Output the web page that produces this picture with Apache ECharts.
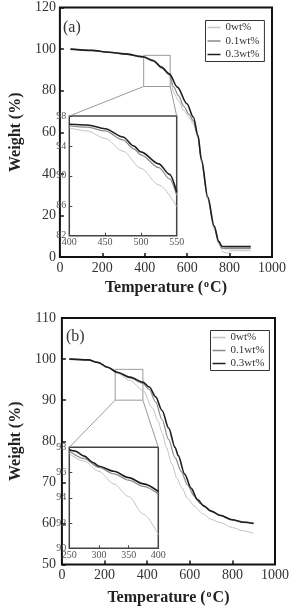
<!DOCTYPE html>
<html>
<head>
<meta charset="utf-8">
<script src="https://cdn.jsdelivr.net/npm/echarts@6/dist/echarts.min.js"></script>
<style>
html,body{margin:0;padding:0;background:#fff;}
#c{width:293px;height:607px;}
</style>
</head>
<body>
<div id="c"></div>
<script>
// ---------- data (temperature °C, weight %) ----------
const seriesNames = ['0wt%', '0.1wt%', '0.3wt%'];

// panel (a) main
const a_0wt  = [[50,100],[150,99.3],[230,98.4],[306,97.5],[393,96.0],[440,94.0],[479,90.7],[516,87.2],[539,78.5],[560,75],[584,70.5],[610,67],[629,64],[651,57],[667,45.5],[697,27.5],[727,13.5],[749,6],[770,2.5],[788,1.8],[805,3],[900,3]];
const a_01wt = [[50,100],[150,99.4],[230,98.5],[306,97.6],[393,96.1],[440,94.2],[479,91.0],[516,87.8],[535,82],[560,77.5],[584,72.5],[610,68.5],[629,65.5],[651,58],[667,46.5],[697,28.5],[727,14.5],[749,7],[764,4.3],[780,4.0],[900,4.0]];
const a_03wt = [[50,100],[150,99.4],[230,98.5],[306,97.7],[393,96.3],[440,94.5],[479,91.3],[516,88.1],[554,81.7],[599,73.7],[629,67.3],[651,58.5],[667,47],[697,29],[727,15],[749,7.5],[764,5.1],[780,5.0],[900,5.0]];
// panel (a) inset
const ia_0wt  = [[400,96.4],[425,96.0],[450,95.0],[475,93.3],[500,91.0],[525,88.8],[550,85.9]];
const ia_01wt = [[400,96.7],[425,96.5],[450,96.0],[475,94.8],[490,93.6],[500,92.8],[525,91.1],[540,89.6],[550,87.4]];
const ia_03wt = [[400,96.9],[425,96.8],[450,96.3],[475,95.2],[490,94.0],[500,93.2],[525,91.6],[540,90.2],[550,87.8]];

// panel (b) main
const b_0wt  = [[35,100],[124,99.8],[169,99.1],[215,97.9],[260,96.5],[320,94.8],[380,92.4],[426,88],[450,85],[471,82],[490,78.5],[516,74.5],[540,71],[561,68.8],[591,66],[621,64.2],[660,62.4],[700,61],[742,60.2],[800,59],[850,58.2],[900,57.6]];
const b_01wt = [[35,100],[124,99.8],[169,99.2],[215,98.0],[260,96.7],[320,95.4],[380,94.1],[410,92.6],[440,89.5],[470,85.3],[500,80.5],[531,76],[560,72.6],[590,69.3],[620,66.7],[650,64.8],[700,63],[742,61.9],[800,60.8],[850,60.4],[900,60.1]];
const b_03wt = [[35,100],[124,99.8],[169,99.2],[215,98.0],[260,96.8],[320,95.6],[380,94.4],[410,93.2],[440,90.8],[470,87.5],[501,83.2],[531,78.5],[546,76.5],[576,72],[606,68.6],[636,65.8],[667,64.2],[700,63.0],[742,62.0],[800,60.9],[850,60.3],[900,60.0]];
// panel (b) inset
const ib_0wt  = [[250,97.5],[275,96.9],[300,96.1],[325,95.1],[350,94.1],[375,92.7],[400,91.1]];
const ib_01wt = [[250,97.7],[275,97.1],[300,96.4],[325,95.9],[350,95.4],[375,94.9],[400,94.3]];
const ib_03wt = [[250,97.8],[260,97.7],[275,97.3],[290,96.8],[300,96.5],[325,96.1],[350,95.6],[375,95.1],[400,94.5]];

// zoom boxes on main charts [xmin,xmax], [ymin,ymax]
const boxA_x = [395, 520], boxA_y = [82, 97];
const boxB_x = [250, 380], boxB_y = [90, 97.5];

// axis ranges [min, max, interval]
const mainX = [0, 1000, 200];
const mainAY = [0, 120, 20];
const mainBY = [50, 110, 10];
const insetAX = [400, 550, 50], insetAY = [82, 98, 4];
const insetBX = [250, 400, 50], insetBY = [90, 98, 2];

// ---------- styles ----------
const colors = ['#c4c4c4', '#8a8a8a', '#1e1e1e'];
const widths = [1, 1.2, 1.6];
const SERIF = '"Liberation Serif","DejaVu Serif",serif';
const plain = v => String(v);

const chart = echarts.init(document.getElementById('c'), null, {renderer: 'canvas'});

function mainXAxis(grid) {
  return {
    gridIndex: grid, type: 'value', min: mainX[0], max: mainX[1], interval: mainX[2],
    axisLine: {show: false},
    axisTick: {show: true, inside: true, length: 4, lineStyle: {color: '#111', width: 1.5}},
    splitLine: {show: false},
    axisLabel: {margin: 4, fontFamily: SERIF, fontSize: 14, color: '#333', formatter: plain},
    name: 'Temperature ({s|o}C)', nameLocation: 'middle', nameGap: grid === 0 ? 22 : 25,
    nameTextStyle: {
      fontFamily: SERIF, fontSize: 16, fontWeight: 'bold', color: '#222',
      rich: {s: {fontFamily: SERIF, fontSize: 10, fontWeight: 'bold', color: '#222', padding: [0, 1, 7, 1]}}
    }
  };
}
function mainYAxis(grid, r, margin) {
  return {
    gridIndex: grid, type: 'value', min: r[0], max: r[1], interval: r[2],
    axisLine: {show: false},
    axisTick: {show: true, inside: true, length: 4, lineStyle: {color: '#111', width: 1.5}},
    splitLine: {show: false},
    axisLabel: {margin: margin, fontFamily: SERIF, fontSize: 14, color: '#333', formatter: plain},
    name: 'Weight (%)', nameLocation: 'middle', nameGap: grid === 0 ? 27 : 30,
    nameTextStyle: {fontFamily: SERIF, fontSize: 16, fontWeight: 'bold', color: '#222'}
  };
}
function insetAxis(grid, r, isX) {
  return {
    gridIndex: grid, type: 'value', min: r[0], max: r[1], interval: r[2],
    axisLine: {show: false},
    axisTick: {show: true, inside: true, length: 3, lineStyle: {color: '#444', width: 1}},
    splitLine: {show: false},
    axisLabel: {margin: isX ? 2 : 3, fontFamily: SERIF, fontSize: 10, color: '#555', formatter: plain}
  };
}
function lineSeries(name, idx, data, xi, yi) {
  return {
    name: name, type: 'line', data: data, xAxisIndex: xi, yAxisIndex: yi,
    showSymbol: false, symbol: 'none', smooth: 0.3, smoothMonotone: 'x',
    lineStyle: {color: colors[idx], width: widths[idx]},
    itemStyle: {color: colors[idx]},
    z: 2 + idx, silent: true, animation: false
  };
}
function legend(left, top, gap) {
  return {
    orient: 'vertical', left: left, top: top, data: seriesNames,
    icon: 'rect', itemWidth: 13, itemHeight: 1.5, itemGap: gap,
    padding: [1, 5, 1, 2], borderColor: '#333', borderWidth: 1,
    textStyle: {fontFamily: SERIF, fontSize: 11, color: '#333', lineHeight: 12},
    selectedMode: false
  };
}

const option = {
  animation: false,
  backgroundColor: '#fff',
  title: [
    {text: '(a)', left: 58, top: 15, textStyle: {fontFamily: SERIF, fontSize: 16, fontWeight: 'normal', color: '#333'}},
    {text: '(b)', left: 61, top: 324, textStyle: {fontFamily: SERIF, fontSize: 16, fontWeight: 'normal', color: '#333'}}
  ],
  legend: [legend(205.5, 20.5, 1.5), legend(210.5, 330.5, 1)],
  grid: [
    {left: 50, top: 7.5, width: 222, height: 249.5, show: true, borderColor: '#111', borderWidth: 2, backgroundColor: 'transparent'},
    {left: 69.3, top: 116, width: 107.4, height: 119.7, show: true, borderColor: '#444', borderWidth: 1.5, backgroundColor: '#fff'},
    {left: 53, top: 318, width: 222, height: 250, show: true, borderColor: '#111', borderWidth: 2, backgroundColor: 'transparent'},
    {left: 69.3, top: 447.3, width: 89, height: 101, show: true, borderColor: '#444', borderWidth: 1.5, backgroundColor: '#fff'}
  ],
  xAxis: [mainXAxis(0), insetAxis(1, insetAX, true), mainXAxis(2), insetAxis(3, insetBX, true)],
  yAxis: [mainYAxis(0, mainAY, 4), insetAxis(1, insetAY, false), mainYAxis(2, mainBY, 6), insetAxis(3, insetBY, false)],
  series: [
    lineSeries(seriesNames[0], 0, a_0wt, 0, 0),
    lineSeries(seriesNames[1], 1, a_01wt, 0, 0),
    lineSeries(seriesNames[2], 2, a_03wt, 0, 0),
    lineSeries(seriesNames[0], 0, ia_0wt, 1, 1),
    lineSeries(seriesNames[1], 1, ia_01wt, 1, 1),
    lineSeries(seriesNames[2], 2, ia_03wt, 1, 1),
    lineSeries(seriesNames[0], 0, b_0wt, 2, 2),
    lineSeries(seriesNames[1], 1, b_01wt, 2, 2),
    lineSeries(seriesNames[2], 2, b_03wt, 2, 2),
    lineSeries(seriesNames[0], 0, ib_0wt, 3, 3),
    lineSeries(seriesNames[1], 1, ib_01wt, 3, 3),
    lineSeries(seriesNames[2], 2, ib_03wt, 3, 3)
  ]
};
chart.setOption(option);

// zoom box and connector lines, positioned through the axes
function boxGraphics(mainGrid, insetGrid, bx, by, ix, iy) {
  const p = (g, v) => chart.convertToPixel({gridIndex: g}, v);
  const bl = p(mainGrid, [bx[0], by[0]]), br = p(mainGrid, [bx[1], by[0]]);
  const tl = p(mainGrid, [bx[0], by[1]]), tr = p(mainGrid, [bx[1], by[1]]);
  const itl = p(insetGrid, [ix[0], iy[1]]), itr = p(insetGrid, [ix[1], iy[1]]);
  const st = {stroke: '#9a9a9a', lineWidth: 1, fill: null};
  return [
    {type: 'polygon', shape: {points: [tl, tr, br, bl]}, style: st, z: 1, silent: true},
    {type: 'line', shape: {x1: bl[0], y1: bl[1], x2: itl[0], y2: itl[1]}, style: st, z: 1, silent: true},
    {type: 'line', shape: {x1: br[0], y1: br[1], x2: itr[0], y2: itr[1]}, style: st, z: 1, silent: true}
  ];
}
chart.setOption({
  graphic: [].concat(
    boxGraphics(0, 1, boxA_x, boxA_y, insetAX, insetAY),
    boxGraphics(2, 3, boxB_x, boxB_y, insetBX, insetBY)
  )
});
</script>
</body>
</html>
